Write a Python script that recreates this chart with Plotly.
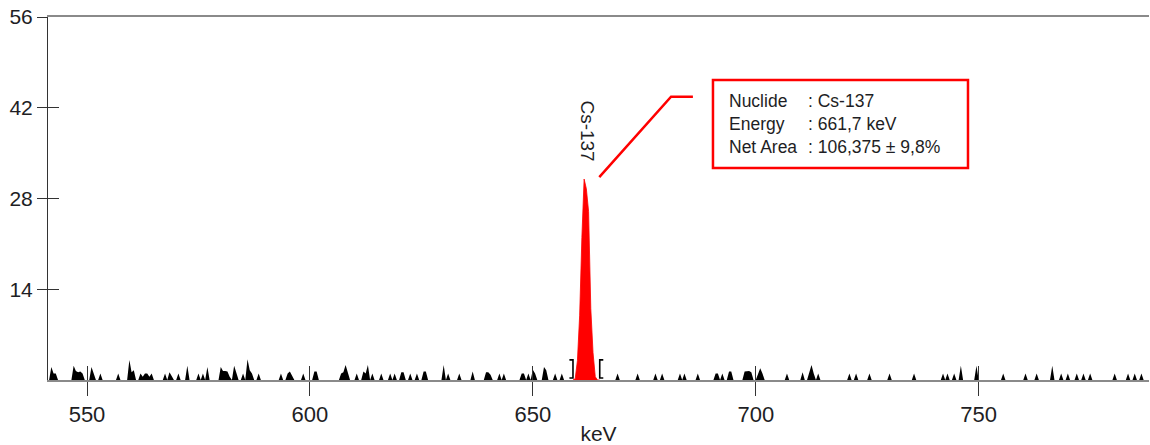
import numpy as np
import plotly.graph_objects as go

# Gamma spectrum: channel grid (keV) and the channels with counts
CHANNEL_START_KEV = 541.5
CHANNEL_STOP_KEV = 788.5
CHANNEL_WIDTH_KEV = 0.5

count_energies = [
    542.0, 542.5, 543.0,
    547.0, 547.5, 548.0, 548.5, 549.0,
    551.0, 551.5, 553.0, 557.0,
    559.5, 560.0, 560.5,
    562.0, 562.5, 563.0, 563.5, 564.0, 564.5,
    567.5, 568.5, 569.0, 570.5, 572.5,
    575.0, 576.0, 577.0,
    580.0, 580.5, 581.0, 581.5, 582.0, 583.0, 583.5,
    585.0, 586.0, 586.5, 587.0, 588.5,
    593.5, 595.0, 595.5, 596.0, 598.5, 601.0, 601.5,
    607.0, 607.5, 608.0, 608.5, 610.5, 612.0, 612.5, 613.0, 614.0,
    616.0, 618.0, 619.0, 620.5, 621.0, 622.5, 624.0, 625.5, 626.0,
    630.0, 631.0, 633.5, 636.5, 639.5, 640.0, 640.5, 642.5, 643.5,
    647.5, 648.0, 649.0, 650.0, 650.5, 652.5, 653.0, 655.0, 656.5,
    659.5, 660.0, 660.5, 661.0, 661.5, 662.0, 662.5, 663.0, 663.5, 664.0,
    669.0, 673.5, 677.5, 679.0, 683.0, 684.0, 687.0, 691.0, 691.5,
    692.5, 694.0, 694.5, 697.5, 698.0, 698.5, 699.0,
    700.5, 701.0, 701.5, 707.0, 710.5, 712.0, 712.5, 713.0, 714.0,
    721.0, 722.5, 725.5, 730.0, 735.5,
    742.0, 743.0, 744.5, 746.0, 749.5,
    755.5, 760.5, 763.0, 766.5, 768.5, 770.0, 772.0, 773.5, 775.0,
    780.5, 783.5, 785.0, 786.5,
]
count_values = [
    2.0, 1.0, 1.0,
    2.2, 1.4, 1.2, 1.3, 1.0,
    2.0, 1.0, 1.0, 1.0,
    3.1, 1.2, 1.5,
    1.0, 0.5, 1.0, 1.0, 0.5, 1.0,
    1.0, 1.2, 0.6, 1.0, 2.2,
    1.0, 1.0, 2.0,
    2.0, 1.4, 1.4, 1.3, 0.5, 2.2, 1.2,
    1.0, 3.2, 1.5, 1.0, 1.0,
    1.0, 1.0, 1.3, 0.6, 1.0, 1.3, 1.3,
    1.0, 1.2, 2.3, 1.3, 1.0, 1.3, 1.0, 2.3, 1.0,
    1.0, 1.0, 1.0, 1.2, 1.2, 1.0, 1.0, 1.3, 1.3,
    2.3, 1.0, 1.0, 1.3, 1.2, 1.2, 0.8, 1.0, 1.0,
    1.0, 1.0, 1.0, 1.6, 1.0, 2.0, 1.5, 1.0, 1.0,
    0.2, 3.0, 10.0, 22.0, 31.0, 29.5, 26.0, 11.0, 4.2, 0.5,
    1.0, 1.0, 1.0, 1.0, 1.0, 1.0, 1.0, 1.0, 1.0,
    1.0, 1.3, 1.3, 1.3, 1.4, 1.4, 1.2,
    1.0, 1.8, 1.0, 1.0, 1.2, 1.3, 2.3, 1.0, 1.0,
    1.0, 1.0, 1.0, 1.0, 1.0,
    1.0, 1.0, 1.0, 2.2, 2.2,
    1.0, 1.0, 1.0, 2.2, 1.0, 1.0, 1.0, 1.0, 1.0,
    1.0, 1.0, 1.0, 1.0,
]

# Region of interest around the identified peak
ROI_LOW_KEV = 659.0
ROI_HIGH_KEV = 665.0
ROI_MARK_HEIGHT = 3.1

# Peak identification
PEAK_NUCLIDE = "Cs-137"
PEAK_ENERGY_TEXT = "661,7 keV"
PEAK_NET_AREA_TEXT = "106,375 ± 9,8%"

# Axes
X_TICKS = [550, 600, 650, 700, 750]
Y_TICKS = [14, 28, 42, 56]
X_RANGE = [541.25, 788.2]
Y_RANGE = [0, 56]

FONT = "Arial, 'Liberation Sans', sans-serif"
TEXT_COLOR = "#1e1e24"

# ---- build the spectrum ----
energy = np.arange(CHANNEL_START_KEV, CHANNEL_STOP_KEV + CHANNEL_WIDTH_KEV / 2, CHANNEL_WIDTH_KEV)
counts = np.zeros_like(energy)
for e, c in zip(count_energies, count_values):
    counts[np.argmin(np.abs(energy - e))] = c

in_roi = (energy >= ROI_LOW_KEV) & (energy <= ROI_HIGH_KEV)
background = np.where(in_roi, 0.0, counts)

peak_idx = int(np.argmax(np.where(in_roi, counts, 0)))
peak_x = float(energy[peak_idx])
peak_y = float(counts[peak_idx])

fig = go.Figure()

fig.add_trace(go.Scatter(
    x=energy, y=background, mode="lines",
    line=dict(color="black", width=0),
    fill="tozeroy", fillcolor="black",
    hoverinfo="skip", showlegend=False,
))
fig.add_trace(go.Scatter(
    x=energy[in_roi], y=counts[in_roi], mode="lines",
    line=dict(color="#ff0000", width=0.8),
    fill="tozeroy", fillcolor="#ff0000",
    hoverinfo="skip", showlegend=False,
))

# ROI boundary brackets "]" and "["
serif = 0.8
fig.add_trace(go.Scatter(
    x=[ROI_LOW_KEV - serif, ROI_LOW_KEV, ROI_LOW_KEV, ROI_LOW_KEV - serif, None,
       ROI_HIGH_KEV + serif, ROI_HIGH_KEV, ROI_HIGH_KEV, ROI_HIGH_KEV + serif],
    y=[ROI_MARK_HEIGHT, ROI_MARK_HEIGHT, 0.3, 0.3, None,
       ROI_MARK_HEIGHT, ROI_MARK_HEIGHT, 0.3, 0.3],
    mode="lines", line=dict(color="black", width=1.6),
    hoverinfo="skip", showlegend=False,
))

# Empty trace carrying the overlay axes that draw the inner half of each tick
fig.add_trace(go.Scatter(x=[None], y=[None], xaxis="x2", yaxis="y2",
                         hoverinfo="skip", showlegend=False))

# Rotated nuclide label above the peak
fig.add_annotation(
    x=peak_x, y=peak_y, text=PEAK_NUCLIDE, textangle=90,
    showarrow=False, xanchor="center", yanchor="bottom", yshift=16, xshift=3,
    font=dict(family=FONT, size=19, color=TEXT_COLOR),
)

# Leader line from the peak to the info box
fig.add_shape(
    type="path",
    path=f"M {peak_x + 3.4},{peak_y + 0.3} L 681.0,43.7 L 685.9,43.7",
    line=dict(color="#ff0000", width=2.5),
)

# Info box
fig.add_shape(
    type="rect", x0=690.4, x1=747.6, y0=32.7, y1=46.3,
    line=dict(color="#ff0000", width=2.5), fillcolor="white",
)
fig.add_annotation(
    x=693.5, y=39.5, xanchor="left", yanchor="middle", align="left",
    text="Nuclide<br>Energy<br>Net Area", showarrow=False,
    font=dict(family=FONT, size=17.5, color=TEXT_COLOR),
)
fig.add_annotation(
    x=711.2, y=39.5, xanchor="left", yanchor="middle", align="left",
    text=f": {PEAK_NUCLIDE}<br>: {PEAK_ENERGY_TEXT}<br>: {PEAK_NET_AREA_TEXT}",
    showarrow=False,
    font=dict(family=FONT, size=17.5, color=TEXT_COLOR),
)

fig.update_layout(
    width=1150, height=445,
    margin=dict(l=48, r=1, t=17, b=65),
    paper_bgcolor="white", plot_bgcolor="white",
    font=dict(family=FONT, color=TEXT_COLOR),
    xaxis=dict(
        range=X_RANGE, tickvals=X_TICKS, ticktext=[str(v) for v in X_TICKS],
        ticks="outside", ticklen=14, tickcolor="#333333", tickwidth=1,
        showline=True, linecolor="#8a8a8a", linewidth=2, mirror=True,
        showgrid=False, zeroline=False,
        tickfont=dict(size=22, family=FONT, color=TEXT_COLOR),
        title=dict(text="keV", font=dict(size=21, family=FONT, color=TEXT_COLOR), standoff=0),
    ),
    yaxis=dict(
        range=Y_RANGE, tickvals=Y_TICKS,
        ticks="outside", ticklen=10, tickcolor="#333333", tickwidth=1,
        showline=True, linecolor="#333333", linewidth=1,
        showgrid=False, zeroline=False,
        tickfont=dict(size=21, family=FONT, color=TEXT_COLOR),
    ),
    xaxis2=dict(
        overlaying="x", anchor="y", side="bottom", range=X_RANGE, tickvals=X_TICKS,
        ticks="inside", ticklen=14, tickcolor="#333333", tickwidth=1,
        showticklabels=False, showline=False, showgrid=False, zeroline=False,
    ),
    yaxis2=dict(
        overlaying="y", anchor="x", side="left", range=Y_RANGE, tickvals=Y_TICKS,
        ticks="inside", ticklen=11, tickcolor="#333333", tickwidth=1,
        showticklabels=False, showline=False, showgrid=False, zeroline=False,
    ),
)

fig.write_html("out.html")
